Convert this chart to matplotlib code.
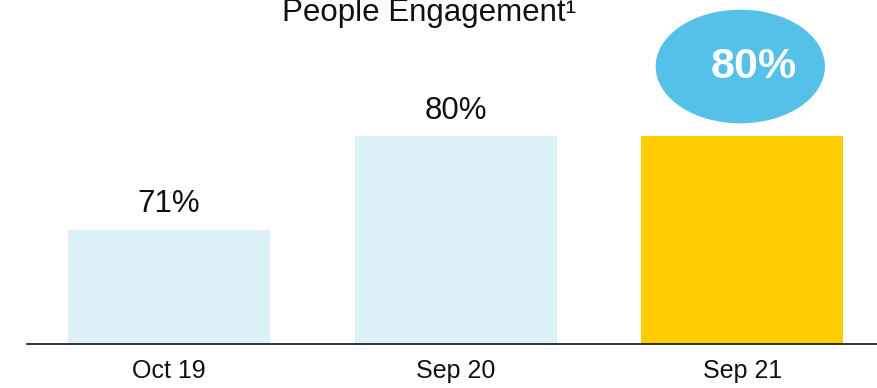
import matplotlib
matplotlib.use("Agg")
import matplotlib.pyplot as plt
from matplotlib.patches import Ellipse

plt.rcParams["font.family"] = ["Liberation Sans", "DejaVu Sans"]

periods = ["Oct 19", "Sep 20", "Sep 21"]
engagement = [71, 80, 80]
bar_colors = ["#dbf0f7", "#dbf0f7", "#ffcc00"]
highlight_label = "80%"

fig = plt.figure(figsize=(8.77, 3.88), dpi=100)
ax = fig.add_axes([27 / 877, 1 - 344 / 388, 1 - 27 / 877, 344 / 388])

x = list(range(len(periods)))
ax.bar(x, engagement, width=0.705, color=bar_colors, zorder=2)

for xi, v in zip(x, engagement):
    ax.annotate(f"{v}%", (xi, v), xytext=(0, 12.5), textcoords="offset points",
                ha="center", va="baseline", fontsize=22.5, color="#111111")

# callout bubble over the latest period
ax.add_patch(Ellipse((x[-1] - 0.007, 86.7), 0.586, 10.8, color="#56c1e8", zorder=3))
ax.text(x[-1] + 0.04, 86.7, highlight_label, ha="center", va="center",
        fontsize=31, fontweight="bold", color="white", zorder=4)

ax.set_xlim(-0.496, 2.47)
ax.set_ylim(60, 93.1)
ax.set_xticks(x)
ax.set_xticklabels(periods, fontsize=18, color="#111111")
ax.tick_params(axis="x", length=0, pad=11)
ax.set_yticks([])
for side in ["top", "right", "left"]:
    ax.spines[side].set_visible(False)
ax.spines["bottom"].set_linewidth(1.1)
ax.spines["bottom"].set_color("black")

fig.text(282 / 877, 1 - 21 / 388, "People Engagement¹", ha="left", va="baseline",
         fontsize=22.5, color="#111111")

fig.savefig("out.png", dpi=100)
